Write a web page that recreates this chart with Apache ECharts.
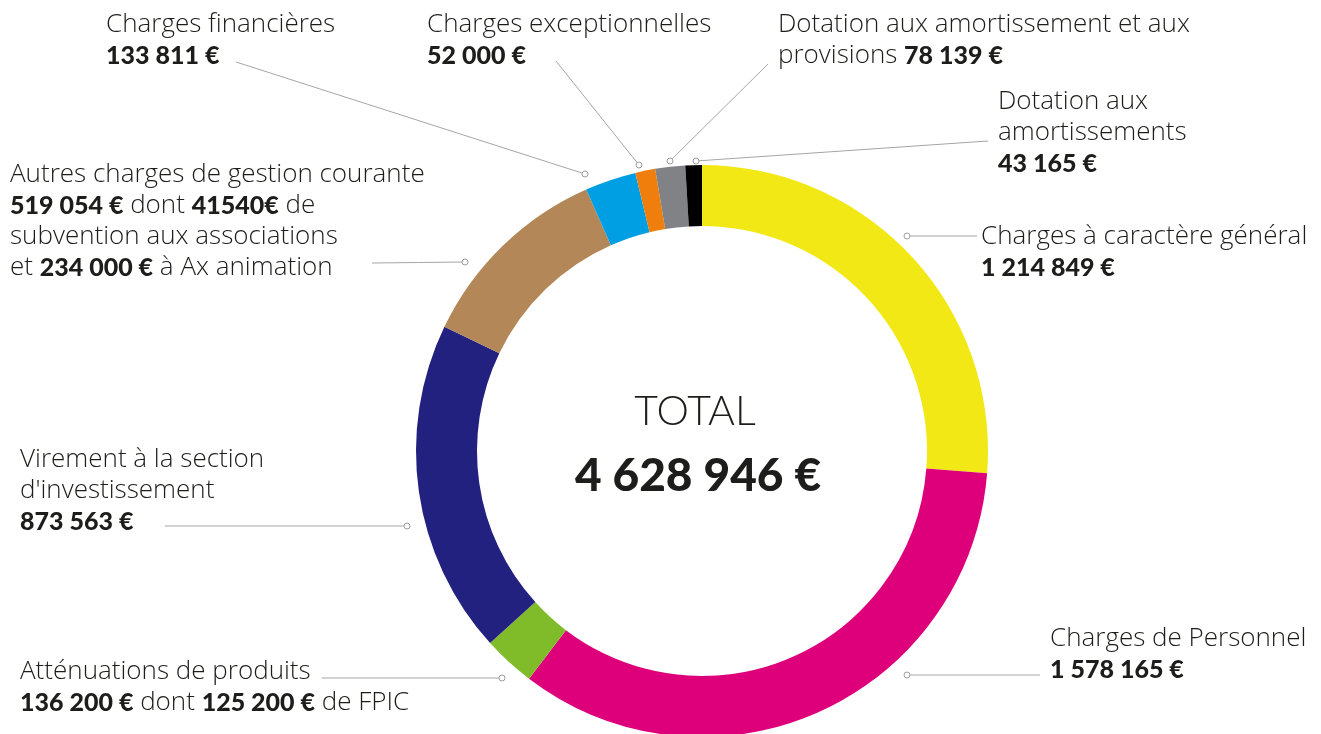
<!DOCTYPE html>
<html>
<head>
<meta charset="utf-8">
<script src="https://cdn.jsdelivr.net/npm/echarts@6/dist/echarts.min.js"></script>
<style>
  html, body { margin: 0; padding: 0; background: #fff; }
  #chart { width: 1321px; height: 734px; }
</style>
</head>
<body>
<div id="chart"></div>
<script>
// postes de dépenses, dans l'ordre horaire depuis midi
const names = [
  'Charges à caractère général',
  'Charges de Personnel',
  'Atténuations de produits',
  "Virement à la section d'investissement",
  'Autres charges de gestion courante',
  'Charges financières',
  'Charges exceptionnelles',
  'Dotation aux amortissement et aux provisions',
  'Dotation aux amortissements'
]
const amounts = [1214849, 1578165, 136200, 873563, 519054, 133811, 52000, 78139, 43165]
// texte des étiquettes, {v} = montant
const labelTexts = [
  'Charges à caractère général\n{v}',
  'Charges de Personnel\n{v}',
  'Atténuations de produits\n{v} dont {b|125 200 €} de FPIC',
  "Virement à la section\nd'investissement\n{v}",
  'Autres charges de gestion courante\n{v} dont {b|41540€} de\nsubvention aux associations\net {b|234 000 €} à Ax animation',
  'Charges financières\n{v}',
  'Charges exceptionnelles\n{v}',
  'Dotation aux amortissement et aux\nprovisions {v}',
  'Dotation aux\namortissements\n{v}'
]
const colors = ['#f2e815', '#de007b', '#80bc29', '#22217f', '#b38757', '#009fe3', '#ef7e0c', '#808285', '#000000']

// placement des étiquettes (coin haut gauche) et des traits de rappel
const labelPos = [
  [981, 221], [1050, 623], [20, 656], [20, 444], [10, 159],
  [106, 9], [427, 9], [778, 9], [998, 86]
]
const leaderFrom = [
  [907, 236], [907, 675], [502, 678], [407, 526], [465, 262],
  [585, 174], [639, 165], [670, 161], [696, 161]
]
const leaderTo = [
  [977, 236], [1040, 675], [322, 678], [165, 526], [372, 263],
  [236, 62], [556, 61], [768, 64], [988, 141]
]

const total = amounts.reduce((a, b) => a + b, 0)

function fmt (v) {
  return String(v).replace(/\B(?=(\d{3})+(?!\d))/g, ' ') + ' €'
}

const chart = echarts.init(document.getElementById('chart'))

let dots = leaderFrom.map(p => ({
  type: 'circle',
  z: 100,
  shape: { cx: p[0], cy: p[1], r: 3 },
  style: { fill: '#fff', stroke: '#9d9d9d', lineWidth: 1 }
}))

let option = {
  animation: false,
  color: colors,
  graphic: dots.concat([
    {
      type: 'text',
      style: {
        x: 695, y: 412, text: 'TOTAL', textAlign: 'center', textVerticalAlign: 'middle',
        font: '300 41px Lato', fill: '#1d1d1b'
      }
    },
    {
      type: 'text',
      style: {
        x: 698, y: 476, text: fmt(total), textAlign: 'center', textVerticalAlign: 'middle',
        font: '900 46px Lato', fill: '#1d1d1b'
      }
    }
  ]),
  series: [
    {
      type: 'pie',
      center: [702, 451],
      radius: [225, 286],
      startAngle: 90,
      clockwise: true,
      avoidLabelOverlap: false,
      silent: true,
      emphasis: { disabled: true },
      itemStyle: { borderWidth: 0 },
      data: names.map((n, i) => ({ name: n, value: amounts[i] })),
      label: {
        show: true,
        position: 'outside',
        fontFamily: 'Open Sans',
        fontWeight: 300,
        fontSize: 26,
        lineHeight: 31,
        color: '#1d1d1b',
        formatter: params => labelTexts[params.dataIndex].replace('{v}', '{b|' + fmt(params.value) + '}'),
        rich: {
          b: { fontFamily: 'Lato', fontWeight: 900, fontSize: 25, lineHeight: 31, color: '#1d1d1b' }
        }
      },
      labelLine: {
        show: true,
        lineStyle: { color: '#a5a5a5', width: 1 }
      },
      labelLayout: params => {
        let i = params.dataIndex
        let a = leaderFrom[i]
        let b = leaderTo[i]
        return {
          x: labelPos[i][0],
          y: labelPos[i][1],
          align: 'left',
          verticalAlign: 'top',
          labelLinePoints: [a, [(a[0] + b[0]) / 2, (a[1] + b[1]) / 2], b]
        }
      }
    }
  ]
}
chart.setOption(option)
</script>
</body>
</html>
